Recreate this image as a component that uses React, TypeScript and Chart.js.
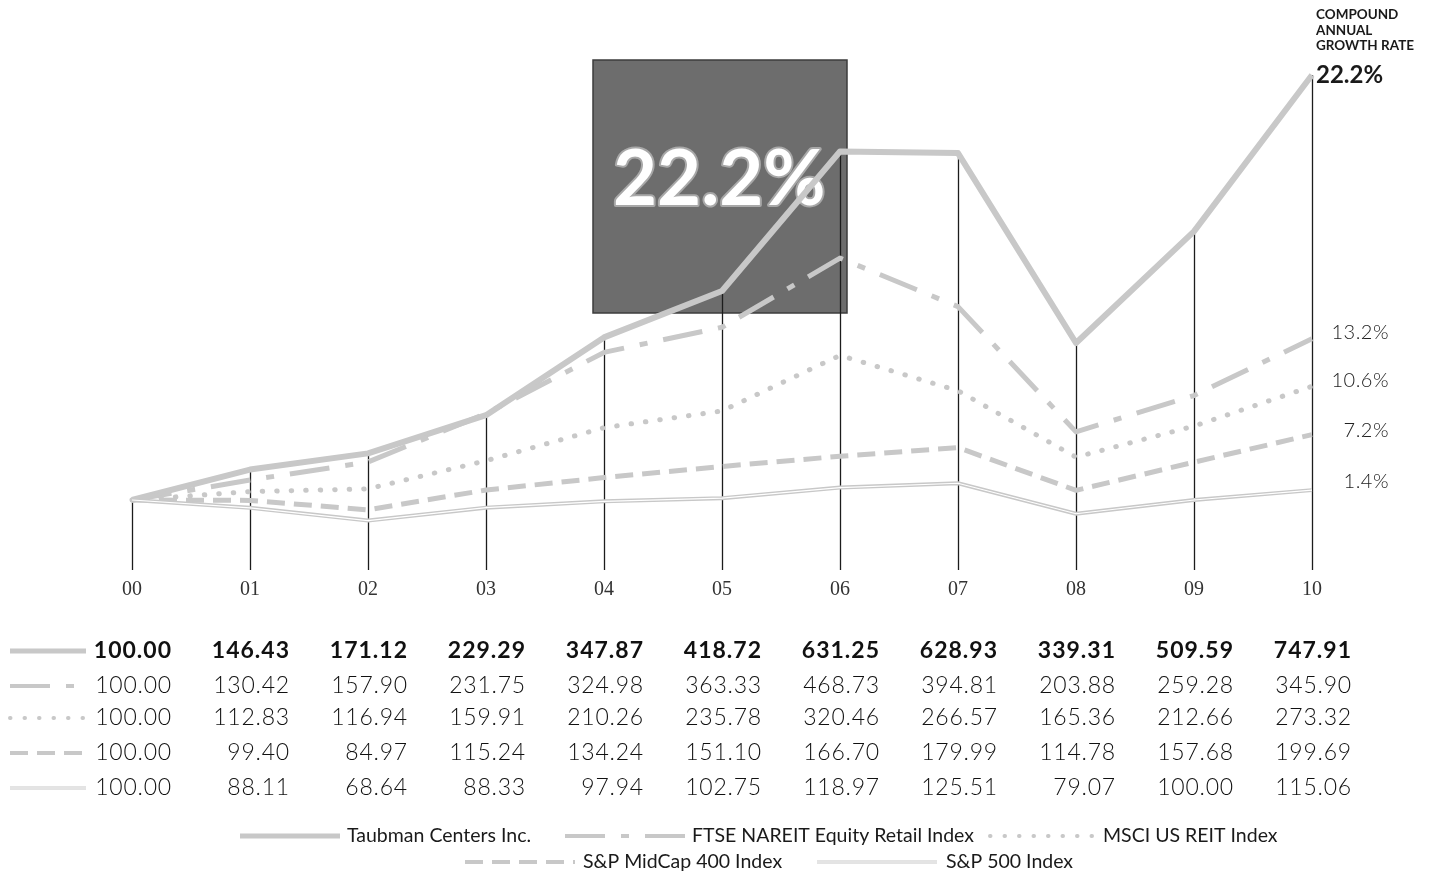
import { useEffect, useRef } from "react";
import { Chart, registerables } from "chart.js";
Chart.register(...registerables);

const years = ["00", "01", "02", "03", "04", "05", "06", "07", "08", "09", "10"];
const taubman = [100.0, 146.43, 171.12, 229.29, 347.87, 418.72, 631.25, 628.93, 339.31, 509.59, 747.91];
const ftseNareit = [100.0, 130.42, 157.9, 231.75, 324.98, 363.33, 468.73, 394.81, 203.88, 259.28, 345.9];
const msciReit = [100.0, 112.83, 116.94, 159.91, 210.26, 235.78, 320.46, 266.57, 165.36, 212.66, 273.32];
const midCap400 = [100.0, 99.4, 84.97, 115.24, 134.24, 151.1, 166.7, 179.99, 114.78, 157.68, 199.69];
const sp500 = [100.0, 88.11, 68.64, 88.33, 97.94, 102.75, 118.97, 125.51, 79.07, 100.0, 115.06];
const seriesNames = [
  "Taubman Centers Inc.",
  "FTSE NAREIT Equity Retail Index",
  "MSCI US REIT Index",
  "S&P MidCap 400 Index",
  "S&P 500 Index",
];
const cagrLabels = ["22.2%", "13.2%", "10.6%", "7.2%", "1.4%"];
const cagrTitle = ["COMPOUND", "ANNUAL", "GROWTH RATE"];
const highlightRate = "22.2%";

const allSeries = [taubman, ftseNareit, msciReit, midCap400, sp500];
const FONT = "Lato, 'Open Sans', sans-serif";
const LINE = "#c8c8c8";

const styles = [
  { borderWidth: 6, borderDash: [] as number[], borderCapStyle: "butt" },
  { borderWidth: 5, borderDash: [40, 16, 8, 16], borderCapStyle: "butt" },
  { borderWidth: 5, borderDash: [0.5, 14], borderCapStyle: "round" },
  { borderWidth: 5, borderDash: [18, 9], borderCapStyle: "butt" },
  { borderWidth: 4, borderDash: [] as number[], borderCapStyle: "butt" },
];

function strokeSwatch(ctx: CanvasRenderingContext2D, i: number, x1: number, x2: number, y: number) {
  const s = styles[i];
  ctx.save();
  ctx.strokeStyle = LINE;
  ctx.lineWidth = s.borderWidth - 1;
  ctx.lineCap = s.borderCapStyle as CanvasLineCap;
  ctx.setLineDash(s.borderDash);
  ctx.beginPath();
  ctx.moveTo(x1, y);
  ctx.lineTo(x2, y);
  ctx.stroke();
  if (i === 4) {
    ctx.strokeStyle = "#fff";
    ctx.lineWidth = 1.2;
    ctx.setLineDash([]);
    ctx.beginPath();
    ctx.moveTo(x1, y);
    ctx.lineTo(x2, y);
    ctx.stroke();
  }
  ctx.restore();
}

const decor = {
  id: "decor",
  beforeDatasetsDraw(chart: any) {
    const { ctx, chartArea, scales } = chart;
    const x = scales.x;
    const y = scales.y;
    ctx.save();
    // highlight box
    const bx1 = x.getPixelForValue(4) - 11;
    const bx2 = x.getPixelForValue(6) + 7;
    ctx.fillStyle = "#6d6d6d";
    ctx.fillRect(bx1, 60, bx2 - bx1, 253);
    ctx.strokeStyle = "#3c3c3c";
    ctx.lineWidth = 1.5;
    ctx.strokeRect(bx1, 60, bx2 - bx1, 253);
    ctx.font = `700 76px ${FONT}`;
    ctx.textAlign = "left";
    ctx.textBaseline = "alphabetic";
    ctx.lineWidth = 4;
    ctx.lineJoin = "round";
    ctx.strokeStyle = "#a8a8a8";
    ctx.strokeText(highlightRate, bx1 + 20, 205);
    ctx.fillStyle = "#ffffff";
    ctx.fillText(highlightRate, bx1 + 20, 205);
    // vertical drop lines
    ctx.strokeStyle = "#1c1c1c";
    ctx.lineWidth = 1.3;
    taubman.forEach((v, i) => {
      const px = Math.round(x.getPixelForValue(i)) + 0.5;
      ctx.beginPath();
      ctx.moveTo(px, y.getPixelForValue(v));
      ctx.lineTo(px, chartArea.bottom);
      ctx.stroke();
    });
    ctx.restore();
  },
  afterDatasetsDraw(chart: any) {
    const { ctx } = chart;
    const meta = chart.getDatasetMeta(4);
    ctx.save();
    ctx.strokeStyle = "#ffffff";
    ctx.lineWidth = 1.2;
    ctx.beginPath();
    meta.data.forEach((p: any, i: number) => {
      if (i === 0) ctx.moveTo(p.x, p.y);
      else ctx.lineTo(p.x, p.y);
    });
    ctx.stroke();
    ctx.restore();
  },
  afterDraw(chart: any) {
    const { ctx, chartArea, scales } = chart;
    const x = scales.x;
    ctx.save();
    // x labels
    ctx.fillStyle = "#333";
    ctx.font = `20px 'Liberation Serif', serif`;
    ctx.textAlign = "center";
    ctx.textBaseline = "middle";
    years.forEach((lab, i) => ctx.fillText(lab, x.getPixelForValue(i), chartArea.bottom + 20));

    // CAGR title
    ctx.textAlign = "left";
    ctx.textBaseline = "middle";
    ctx.fillStyle = "#1a1a1a";
    ctx.font = `700 13.5px ${FONT}`;
    cagrTitle.forEach((t, i) => ctx.fillText(t, chartArea.right + 4, 15 + i * 15.5));
    ctx.font = `700 24px ${FONT}`;
    ctx.fillText(cagrLabels[0], chartArea.right + 4, 75);
    ctx.textAlign = "right";
    ctx.font = `300 20px ${FONT}`;
    ctx.fillStyle = "#222";
    (ctx as any).letterSpacing = "0.5px";
    const cagrY = [333, 381, 431, 482];
    cagrY.forEach((yy, i) => ctx.fillText(cagrLabels[i + 1], 1389, yy));

    // table
    const rowY = [651, 686, 718, 753, 788];
    allSeries.forEach((vals, r) => {
      ctx.font = r === 0 ? `700 23px ${FONT}` : `300 23px ${FONT}`;
      (ctx as any).letterSpacing = r === 0 ? "1px" : "0.8px";
      ctx.fillStyle = "#111";
      ctx.textAlign = "right";
      vals.forEach((v, i) => ctx.fillText(v.toFixed(2), x.getPixelForValue(i) + 40, rowY[r]));
      strokeSwatch(ctx, r, 10, 86, rowY[r]);
    });

    // legend
    (ctx as any).letterSpacing = "0px";
    ctx.font = `400 19.5px ${FONT}`;
    ctx.textAlign = "left";
    ctx.fillStyle = "#1a1a1a";
    const legendItems = [
      { i: 0, sx: 240, ex: 340, tx: 347, y: 836 },
      { i: 1, sx: 565, ex: 685, tx: 692, y: 836 },
      { i: 2, sx: 990, ex: 1095, tx: 1103, y: 836 },
      { i: 3, sx: 465, ex: 575, tx: 583, y: 862 },
      { i: 4, sx: 817, ex: 937, tx: 946, y: 862 },
    ];
    legendItems.forEach((it) => {
      strokeSwatch(ctx, it.i, it.sx, it.ex, it.y);
      ctx.fillText(seriesNames[it.i], it.tx, it.y);
    });
    ctx.restore();
  },
};

export default function App() {
  const ref = useRef<HTMLCanvasElement>(null);
  useEffect(() => {
    if (!ref.current) return;
    const chart = new Chart(ref.current, {
      type: "line",
      data: {
        labels: years,
        datasets: allSeries.map((vals, i) => ({
          label: seriesNames[i],
          data: vals,
          borderColor: LINE,
          borderWidth: styles[i].borderWidth,
          borderDash: styles[i].borderDash,
          borderCapStyle: styles[i].borderCapStyle as any,
          borderJoinStyle: "round" as any,
          pointRadius: 0,
          tension: 0,
          fill: false,
          clip: false as any,
          order: 4 - i,
        })),
      },
      options: {
        animation: false,
        responsive: false,
        devicePixelRatio: 1,
        layout: { padding: { left: 132, right: 117, top: 75, bottom: 308 } },
        plugins: { legend: { display: false }, tooltip: { enabled: false } },
        scales: {
          x: { display: false, offset: false },
          y: { display: false, min: -6.7, max: 747.91 },
        },
      },
      plugins: [decor],
    });
    return () => chart.destroy();
  }, []);
  return (
    <div style={{ position: "fixed", left: 0, top: 0, width: 1429, height: 878, background: "#fff" }}>
      <canvas ref={ref} width={1429} height={878} style={{ display: "block" }} />
    </div>
  );
}
